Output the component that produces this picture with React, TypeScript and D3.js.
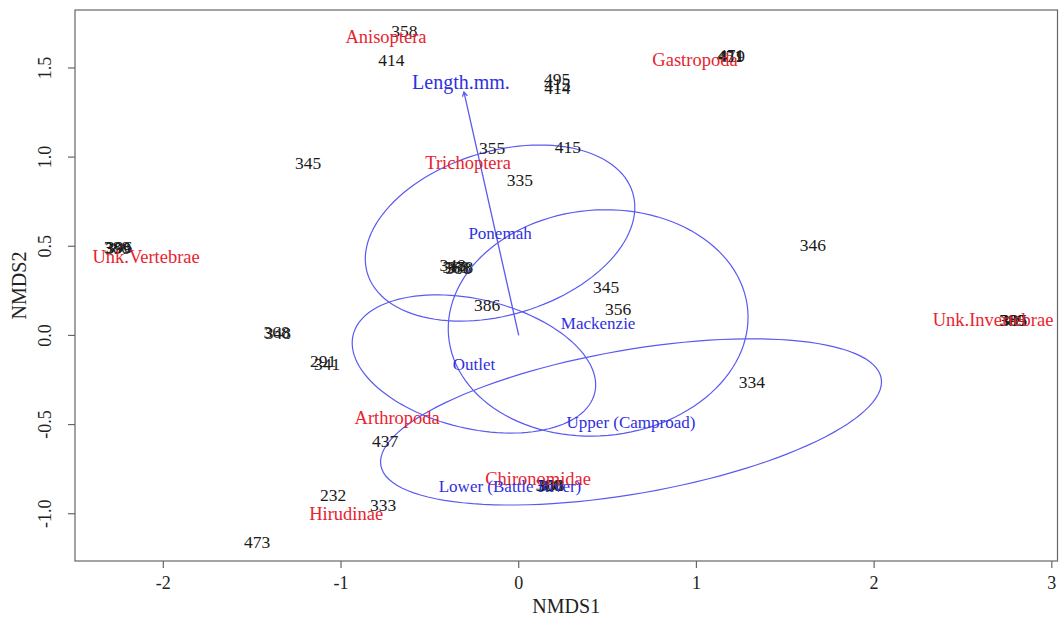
import React from "react";
import * as d3 from "d3";

// ---- data (NMDS coordinates) ----
const xTicks = [-2, -1, 0, 1, 2, 3];
const yTicks = [-1.0, -0.5, 0.0, 0.5, 1.0, 1.5];
const xDomain = [-2.497, 3.032];
const yDomain = [-1.265, 1.825];

// site labels (black)
const siteLabels = ["358", "414", "495", "415", "414", "355", "415", "345", "335",
  "451", "471", "419",
  "388", "399", "396",
  "348", "368", "388", "378",
  "386", "368", "348", "291", "341", "346", "345", "356", "334",
  "389", "399", "385",
  "437", "232", "333", "473",
  "300", "388", "308"];
const siteX = [-0.644, -0.717, 0.216, 0.218, 0.218, -0.150, 0.277, -1.185, 0.007,
  1.188, 1.195, 1.200,
  -2.262, -2.254, -2.248,
  -0.372, -0.355, -0.340, -0.330,
  -0.178, -1.362, -1.356, -1.100, -1.078, 1.656, 0.492, 0.559, 1.312,
  2.776, 2.782, 2.788,
  -0.752, -1.045, -0.763, -1.472,
  0.168, 0.176, 0.184];
const siteY = [1.707, 1.545, 1.436, 1.410, 1.388, 1.051, 1.057, 0.967, 0.871,
  1.566, 1.572, 1.568,
  0.496, 0.492, 0.498,
  0.393, 0.385, 0.380, 0.384,
  0.171, 0.022, 0.016, -0.140, -0.162, 0.507, 0.271, 0.148, -0.262,
  0.087, 0.085, 0.089,
  -0.592, -0.895, -0.951, -1.159,
  -0.836, -0.840, -0.838];

// species labels (red)
const speciesNames = ["Anisoptera", "Gastropoda", "Trichoptera", "Unk.Vertebrae",
  "Unk.Invertebrae", "Arthropoda", "Hirudinae", "Chironomidae"];
const speciesX = [-0.747, 0.992, -0.285, -2.097, 2.669, -0.684, -0.971, 0.109];
const speciesY = [1.679, 1.545, 0.967, 0.440, 0.087, -0.463, -0.996, -0.800];

// groups (blue): ellipse centres, semi-axes, rotation (deg)
const groupNames = ["Ponemah", "Mackenzie", "Outlet", "Upper (Camproad)", "Lower (Battle River)"];
const groupX = [-0.105, 0.447, -0.252, 0.632, -0.049];
const groupY = [0.574, 0.070, -0.160, -0.485, -0.845];
const groupA = [0.780, 0.845, 0.699, 1.429, 0];
const groupB = [0.459, 0.633, 0.362, 0.403, 0];
const groupAngle = [16.8, 5, -13.4, 9.84, 0];

// fitted vector
const vectorName = "Length.mm.";
const vectorEnd = [-0.308, 1.365];
const vectorLabel = [-0.325, 1.421];

const W = 1059;
const H = 623;
const L = 75, R = 1057.5, T = 10, B = 561;

export default function App() {
  const x = d3.scaleLinear().domain(xDomain).range([L, R]);
  const y = d3.scaleLinear().domain(yDomain).range([B, T]);
  const serif = "'Liberation Serif', 'Times New Roman', serif";
  const red = "#e8232f";
  const blue = "#3030e0";
  const lineBlue = "#5a5af0";

  const ellipsePath = (i: number) => {
    const n = 120;
    const th = (groupAngle[i] * Math.PI) / 180;
    const pts: [number, number][] = d3.range(n).map((k) => {
      const t = (2 * Math.PI * k) / n;
      const ex = groupA[i] * Math.cos(t);
      const ey = groupB[i] * Math.sin(t);
      const dx = ex * Math.cos(th) - ey * Math.sin(th);
      const dy = ex * Math.sin(th) + ey * Math.cos(th);
      return [x(groupX[i] + dx), y(groupY[i] + dy)];
    });
    return d3.line().curve(d3.curveLinearClosed)(pts) || "";
  };

  // arrow head
  const x0 = x(0), y0 = y(0), x1 = x(vectorEnd[0]), y1 = y(vectorEnd[1]);
  const ang = Math.atan2(y1 - y0, x1 - x0);
  const hl = 5, ha = (30 * Math.PI) / 180;
  const hp1 = [x1 - hl * Math.cos(ang - ha), y1 - hl * Math.sin(ang - ha)];
  const hp2 = [x1 - hl * Math.cos(ang + ha), y1 - hl * Math.sin(ang + ha)];

  return (
    <svg width={W} height={H} style={{ position: "absolute", left: 0, top: 0, background: "#fff" }}
      fontFamily={serif}>
      <rect x={0} y={0} width={W} height={H} fill="#fff" />
      {/* ellipses */}
      {groupNames.map((g, i) =>
        groupA[i] > 0 ? (
          <path key={"e" + g} d={ellipsePath(i)} fill="none" stroke={lineBlue} strokeWidth={1.2} />
        ) : null
      )}
      {/* vector */}
      <line x1={x0} y1={y0} x2={x1} y2={y1} stroke={lineBlue} strokeWidth={1.3} />
      <polyline points={`${hp1[0]},${hp1[1]} ${x1},${y1} ${hp2[0]},${hp2[1]}`} fill="none"
        stroke={lineBlue} strokeWidth={1.3} />
      <text x={x(vectorLabel[0])} y={y(vectorLabel[1])} dy="0.35em" textAnchor="middle"
        fontSize={20} fill={blue}>{vectorName}</text>

      {/* site labels */}
      {siteLabels.map((s, i) => (
        <text key={"s" + i} x={x(siteX[i])} y={y(siteY[i])} dy="0.35em" textAnchor="middle"
          fontSize={17.5} fill="#1a1a1a">{s}</text>
      ))}
      {/* species labels */}
      {speciesNames.map((s, i) => (
        <text key={"sp" + i} x={x(speciesX[i])} y={y(speciesY[i])} dy="0.35em" textAnchor="middle"
          fontSize={18.5} fill={red}>{s}</text>
      ))}
      {/* group labels */}
      {groupNames.map((g, i) => (
        <text key={"g" + i} x={x(groupX[i])} y={y(groupY[i])} dy="0.35em" textAnchor="middle"
          fontSize={17} fill={blue}>{g}</text>
      ))}

      {/* frame */}
      <rect x={L} y={T} width={R - L} height={B - T} fill="none" stroke="#666" strokeWidth={1.2} />
      {/* x axis */}
      {xTicks.map((t) => (
        <g key={"xt" + t}>
          <line x1={x(t)} x2={x(t)} y1={B} y2={B + 7} stroke="#666" strokeWidth={1.2} />
          <text x={x(t)} y={B + 22} dy="0.35em" textAnchor="middle" fontSize={18} fill="#222">
            {String(t)}
          </text>
        </g>
      ))}
      {/* y axis */}
      {yTicks.map((t) => (
        <g key={"yt" + t}>
          <line x1={L - 7} x2={L} y1={y(t)} y2={y(t)} stroke="#666" strokeWidth={1.2} />
          <text transform={`translate(${L - 30},${y(t)}) rotate(-90)`} dy="0.35em" textAnchor="middle"
            fontSize={18} fill="#222">{t.toFixed(1)}</text>
        </g>
      ))}
      <text x={(L + R) / 2} y={606} dy="0.35em" textAnchor="middle" fontSize={20} fill="#222">NMDS1</text>
      <text transform={`translate(19,${(T + B) / 2}) rotate(-90)`} dy="0.35em" textAnchor="middle"
        fontSize={20} fill="#222">NMDS2</text>
    </svg>
  );
}
